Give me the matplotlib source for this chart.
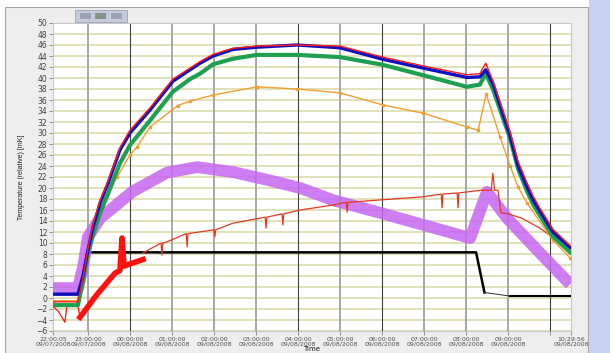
import matplotlib
matplotlib.use("Agg")
import matplotlib.pyplot as plt
from matplotlib.patches import Rectangle

# ---- data (time in hours after 22:00 on 09/07/2008) ----
t_top = [0.17, 0.76, 0.88, 1.0, 1.12, 1.29, 1.48, 1.76, 2.0, 2.48, 3.02, 3.43, 3.67, 3.98,
         4.45, 5.02, 5.98, 7.0, 8.02, 8.98, 10.02, 10.33, 10.47, 10.64, 11.05, 11.24,
         11.45, 11.6, 11.76, 12.07, 12.48]
blue = [0.7, 0.7, 4.0, 8.7, 12.9, 17.3, 20.9, 26.9, 30.0, 34.2, 39.4, 41.5, 42.7, 44.0,
        45.2, 45.6, 46.0, 45.5, 43.4, 41.8, 40.1, 40.2, 41.5, 39.0, 29.5, 24.0,
        20.2, 17.8, 15.8, 12.0, 9.2]
red_top = [-0.7, -0.7, 3.5, 9.0, 13.5, 17.8, 21.3, 27.3, 30.5, 34.6, 39.8, 41.8, 43.0, 44.3,
           45.4, 45.8, 46.0, 45.8, 43.8, 42.2, 40.6, 40.8, 42.7, 39.5, 30.2, 24.8,
           21.0, 18.5, 16.3, 12.5, 9.5]
green = [-1.3, -1.3, 3.0, 8.3, 11.5, 15.5, 19.0, 24.5, 27.8, 32.3, 37.5, 39.8, 40.8, 42.5,
         43.5, 44.2, 44.2, 43.8, 42.4, 40.5, 38.4, 38.8, 40.8, 38.0, 29.0, 23.5,
         19.5, 17.0, 15.0, 11.2, 8.3]

t_orange = [0.17, 0.76, 0.88, 1.0, 1.12, 1.69, 2.0, 2.17, 2.48, 3.14, 3.43, 3.98, 5.02, 5.98,
            7.0, 8.02, 8.98, 10.02, 10.29, 10.48, 10.81, 11.05, 11.24, 11.45, 12.07, 12.48]
orange = [-0.5, -0.5, 3.0, 8.0, 13.6, 22.0, 26.0, 27.5, 31.1, 35.0, 35.8, 36.9, 38.4, 38.0,
          37.3, 35.1, 33.6, 31.1, 30.5, 37.1, 29.3, 24.0, 20.2, 17.3, 10.5, 7.3]

t_violet = [0.17, 0.76, 0.88, 1.0, 1.29, 2.07, 2.88, 3.6, 4.45, 5.26, 6.05, 6.83, 7.95,
            8.98, 10.1, 10.5, 10.98, 11.76, 12.48]
violet = [1.8, 1.8, 5.5, 11.1, 14.5, 19.4, 22.8, 23.8, 22.9, 21.5, 20.0, 17.8, 15.5,
          13.3, 10.9, 19.3, 14.5, 8.2, 2.5]

# red sensor: noisy start (thick part) then thin line with dropouts
t_red_a = [0.17, 0.30, 0.45, 0.50, 0.76, 0.81, 1.2, 1.64, 1.76, 1.81, 1.86, 2.0, 2.31]
red_a = [-1.5, -2.5, -4.4, -1.2, -1.5, -3.5, 0.5, 4.5, 5.0, 10.9, 5.8, 6.2, 7.0]
t_red_b = [2.31, 2.74, 2.76, 2.78, 2.88, 3.34, 3.36, 3.38, 4.0, 4.02, 4.04, 4.45, 5.22, 5.24,
           5.26, 5.62, 5.64, 5.66, 6.05, 6.83, 7.15, 7.17, 7.19, 8.98, 9.41, 9.43, 9.45,
           9.79, 9.81, 9.83, 10.36, 10.60, 10.64, 10.68, 10.76, 10.83, 11.0, 11.33, 11.76, 12.48]
red_b = [8.2, 10.0, 7.8, 10.0, 10.2, 11.7, 9.3, 11.7, 12.4, 11.1, 12.4, 13.6, 14.7, 12.7,
         14.7, 15.3, 13.3, 15.3, 16.0, 16.9, 17.4, 15.6, 17.4, 18.4, 18.9, 16.4, 18.9,
         19.1, 16.4, 19.1, 19.6, 19.6, 22.7, 19.6, 19.6, 15.5, 15.3, 14.5, 12.7, 8.7]

t_black = [0.17, 0.76, 1.02, 10.24, 10.44, 11.05, 12.48]
black = [0.7, 0.7, 8.3, 8.3, 1.0, 0.35, 0.35]

tick_pos = [0.167, 1, 2, 3, 4, 5, 6, 7, 8, 9, 10, 11, 12, 12.5]
tick_labels = ["22:00:05\n09/07/2008", "23:00:00\n09/07/2008", "00:00:00\n09/08/2008",
               "01:00:00\n09/08/2008", "02:00:00\n09/08/2008", "03:00:00\n09/08/2008",
               "04:00:00\n09/08/2008", "05:00:00\n09/08/2008", "06:00:00\n09/08/2008",
               "07:00:00\n09/08/2008", "08:00:00\n09/08/2008", "09:00:00\n09/08/2008",
               "", "10:29:56\n09/08/2008"]
dark_grid = [2, 6, 8, 12]
grey_grid = [1, 3, 4, 5, 7, 9, 10, 11]

# ---- figure ----
W, H = 610, 353
fig = plt.figure(figsize=(W / 100, H / 100), dpi=100)
fig.patch.set_facecolor("white")
fig.add_artist(Rectangle((5 / W, 0), (588 - 5) / W, (H - 7) / H, transform=fig.transFigure,
                         fc="#eeeeee", ec="#a8a8a8", lw=0.8, zorder=0))
fig.add_artist(Rectangle((589 / W, 0), 21 / W, 1, transform=fig.transFigure,
                         fc="#c6d2f0", ec="none", zorder=0))
# toolbar
fig.add_artist(Rectangle((75 / W, (H - 22) / H), 52 / W, 12 / H, transform=fig.transFigure,
                         fc="#c4ccdc", ec="#9aa4b8", lw=0.6, zorder=1))
for x0, c in [(80, "#8a94a8"), (95, "#6a7a6a"), (111, "#8a94a8")]:
    fig.add_artist(Rectangle((x0 / W, (H - 19) / H), 11 / W, 6 / H, transform=fig.transFigure,
                             fc=c, ec="none", alpha=0.7, zorder=2))

ax = fig.add_axes([53 / W, 22 / H, 518 / W, 308 / H])
ax.set_facecolor("white")
ax.set_xlim(0.167, 12.5)
ax.set_ylim(-6, 50)
ax.set_yticks(range(-6, 51, 2))
ax.yaxis.grid(True, color="#d9d9a6", lw=1.1)
ax.set_axisbelow(True)
for g in grey_grid:
    ax.axvline(g, color="#a0a0a0", lw=1.3, zorder=1)
for g in dark_grid:
    ax.axvline(g, color="#404040", lw=0.8, zorder=1)

ax.plot(t_black[:5], black[:5], color="black", lw=1.8, zorder=3)
ax.plot(t_black[4:6], black[4:6], color="#303030", lw=0.7, zorder=3)
ax.plot(t_black[5:], black[5:], color="black", lw=1.5, zorder=3)
ax.plot(t_violet, violet, color="#c766f2", lw=8.5, alpha=0.85, solid_capstyle="butt", zorder=4)
ax.plot(t_red_b, red_b, color="#e03a22", lw=0.9, zorder=5)
ax.plot(t_red_a, red_a, color="#ff1010", lw=0.9, zorder=5)
ax.plot(t_red_a[5:], red_a[5:], color="#ff1010", lw=4, zorder=5)
ax.plot(t_orange, orange, color="#f0a030", lw=1.0, marker="s", ms=2, zorder=6)
ax.plot(t_top, green, color="#1fa050", lw=3.0, zorder=7)
ax.plot(t_top, blue, color="#1010c0", lw=2.4, zorder=8)
ax.plot(t_top, red_top, color="#ff1a1a", lw=1.0, zorder=9)

ax.set_xticks(tick_pos)
ax.set_xticklabels(tick_labels, fontsize=4.5, color="#505050", linespacing=0.95)
for lbl in ax.get_yticklabels():
    lbl.set_fontsize(5.5)
    lbl.set_color("#404040")
ax.tick_params(axis="both", direction="out", length=3, width=0.7, color="#909090", pad=1)
for s in ax.spines.values():
    s.set_color("#c8c8c8")
    s.set_linewidth(0.8)

ax.set_ylabel("Temperature (relative) [mK]", fontsize=5, color="#202020",
              family="Liberation Sans", labelpad=8)
ax.set_xlabel("Time", fontsize=5, color="#202020", va="center")
ax.xaxis.set_label_coords(0.5, -0.058)

fig.savefig("out.png", dpi=100, facecolor=fig.get_facecolor())
